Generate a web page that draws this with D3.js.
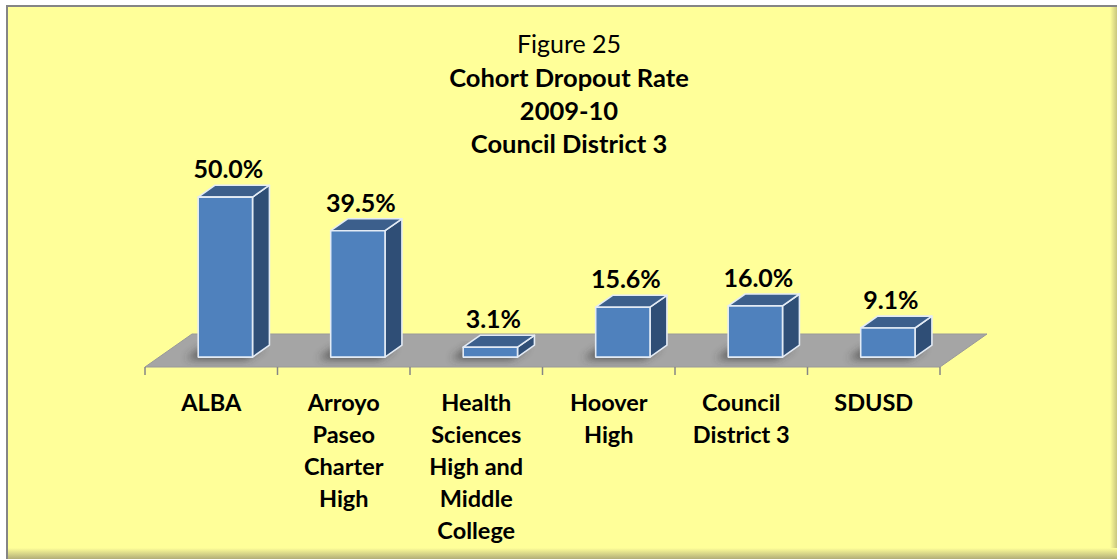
<!DOCTYPE html>
<html>
<head>
<meta charset="utf-8">
<script src="https://cdn.jsdelivr.net/npm/d3@7"></script>
<style>
  body { margin: 0; background: #fff; }
  svg { display: block; font-family: Lato, 'Open Sans', sans-serif; }
</style>
</head>
<body>
<div id="chart"></div>
<script>
// data
const schools = ['ALBA', 'Arroyo Paseo Charter High', 'Health Sciences High and Middle College',
    'Hoover High', 'Council District 3', 'SDUSD'];
const labelLines = [
    ['ALBA'],
    ['Arroyo', 'Paseo', 'Charter', 'High'],
    ['Health', 'Sciences', 'High and', 'Middle', 'College'],
    ['Hoover', 'High'],
    ['Council', 'District 3'],
    ['SDUSD'],
];
const dropoutRates = [50.0, 39.5, 3.1, 15.6, 16.0, 9.1];
const titleLines = ['Figure 25', 'Cohort Dropout Rate', '2009-10', 'Council District 3'];

const W = 1117, H = 559;

// floor of the 3d plot
const floorFront = 367;
const depthX = 47, depthY = -33;
const barInset = 0.3;     // how far back the bars sit on the floor
const barDepth = 0.36;    // bar depth as a share of floor depth

const svg = d3.select('#chart')
    .append('svg')
    .attr('width', W)
    .attr('height', H);

const defs = svg.append('defs');

defs.append('filter')
    .attr('id', 'blur')
    .attr('x', '-50%').attr('y', '-50%')
    .attr('width', '200%').attr('height', '200%')
    .append('feGaussianBlur')
    .attr('stdDeviation', 4);

const gradR = defs.append('linearGradient').attr('id', 'shadeR').attr('x1', 0).attr('x2', 1).attr('y1', 0).attr('y2', 0);
gradR.append('stop').attr('offset', 0).attr('stop-color', '#ffff99');
gradR.append('stop').attr('offset', 1).attr('stop-color', '#c9c67e');

const gradB = defs.append('linearGradient').attr('id', 'shadeB').attr('x1', 0).attr('x2', 0).attr('y1', 0).attr('y2', 1);
gradB.append('stop').attr('offset', 0).attr('stop-color', '#ffff99');
gradB.append('stop').attr('offset', 1).attr('stop-color', '#b2ae78');

// background panel
svg.append('rect')
    .attr('x', 6).attr('y', 5)
    .attr('width', W - 6).attr('height', H - 5)
    .attr('fill', '#ffff99');

svg.append('rect')
    .attr('x', 1110).attr('y', 5)
    .attr('width', 7).attr('height', H - 5)
    .attr('fill', 'url(#shadeR)');

svg.append('rect')
    .attr('x', 6).attr('y', 548)
    .attr('width', W - 6).attr('height', 11)
    .attr('fill', 'url(#shadeB)');

svg.append('path')
    .attr('d', `M7,${H} L7,6 L${W},6`)
    .attr('fill', 'none')
    .attr('stroke', '#858585')
    .attr('stroke-width', 2);

const x = d3.scaleBand()
    .domain(schools)
    .range([145, 940])
    .padding(0);

const y = d3.scaleLinear()
    .domain([0, 50])
    .range([0, 160]);

// floor
const fx0 = x.range()[0], fx1 = x.range()[1];
svg.append('path')
    .attr('d', `M${fx0},${floorFront} L${fx1},${floorFront} L${fx1 + depthX},${floorFront + depthY} L${fx0 + depthX},${floorFront + depthY} Z`)
    .attr('fill', '#a5a5a5')
    .attr('stroke', '#999')
    .attr('stroke-width', 1);

// tick marks along the front edge
const tickXs = schools.map((s) => x(s)).concat([fx1]);
svg.selectAll('.tick-mark')
    .data(tickXs)
    .enter()
    .append('line')
    .attr('class', 'tick-mark')
    .attr('x1', (d) => d).attr('x2', (d) => d)
    .attr('y1', floorFront).attr('y2', floorFront + 8)
    .attr('stroke', '#868686')
    .attr('stroke-width', 1.5);

const rows = schools.map((s, i) => {
    const bw = x.bandwidth() * 0.41;
    const cx = x(s) + x.bandwidth() / 2 + depthX * barInset;
    const base = floorFront + depthY * barInset;
    return {
        name: s,
        value: dropoutRates[i],
        lines: labelLines[i],
        x0: cx - bw / 2,
        x1: cx + bw / 2,
        base: base,
        top: base - y(dropoutRates[i]),
        bdx: depthX * barDepth,
        bdy: depthY * barDepth,
    };
});

// soft shadows on the floor
svg.selectAll('.shadow')
    .data(rows)
    .enter()
    .append('path')
    .attr('class', 'shadow')
    .attr('d', (d) => `M${d.x0 - 12},${d.base + 2} L${d.x1 - 6},${d.base + 2} L${d.x1 + d.bdx - 6},${d.base + d.bdy + 2} L${d.x0 + d.bdx - 12},${d.base + d.bdy + 2} Z`)
    .attr('fill', '#333')
    .attr('opacity', 0.75)
    .attr('filter', 'url(#blur)');

const bars = svg.selectAll('.bar')
    .data(rows)
    .enter()
    .append('g')
    .attr('class', 'bar')
    .attr('stroke', '#e3ebf5')
    .attr('stroke-width', 1.6)
    .attr('stroke-linejoin', 'round');

bars.append('path')
    .attr('d', (d) => `M${d.x1},${d.base} L${d.x1},${d.top} L${d.x1 + d.bdx},${d.top + d.bdy} L${d.x1 + d.bdx},${d.base + d.bdy} Z`)
    .attr('fill', '#2f4e76');

bars.append('path')
    .attr('d', (d) => `M${d.x0},${d.top} L${d.x1},${d.top} L${d.x1 + d.bdx},${d.top + d.bdy} L${d.x0 + d.bdx},${d.top + d.bdy} Z`)
    .attr('fill', '#3c5f8c');

bars.append('rect')
    .attr('x', (d) => d.x0)
    .attr('y', (d) => d.top)
    .attr('width', (d) => d.x1 - d.x0)
    .attr('height', (d) => d.base - d.top)
    .attr('fill', '#4f81bd');

// value labels
const fmt = d3.format('.1%');
svg.selectAll('.value-label')
    .data(rows)
    .enter()
    .append('text')
    .attr('class', 'value-label')
    .attr('x', (d) => (d.x0 + d.x1) / 2 + 3)
    .attr('y', (d) => d.top + d.bdy - 7)
    .attr('text-anchor', 'middle')
    .style('font-size', '25px')
    .style('font-weight', 'bold')
    .text((d) => fmt(d.value / 100));

// category labels
const cat = svg.selectAll('.cat-label')
    .data(rows)
    .enter()
    .append('text')
    .attr('class', 'cat-label')
    .attr('text-anchor', 'middle')
    .style('font-size', '23.5px')
    .style('font-weight', 'bold');

cat.selectAll('tspan')
    .data((d) => d.lines.map((t) => ({ t: t, cx: x(d.name) + x.bandwidth() / 2 })))
    .enter()
    .append('tspan')
    .attr('x', (d) => d.cx)
    .attr('y', (d, i) => 411 + i * 32)
    .text((d) => d.t);

// title
svg.selectAll('.title-line')
    .data(titleLines)
    .enter()
    .append('text')
    .attr('class', 'title-line')
    .attr('x', 569)
    .attr('y', (d, i) => [53, 87, 120, 153][i])
    .attr('text-anchor', 'middle')
    .style('font-size', (d, i) => (i === 0 ? '25px' : '25.5px'))
    .style('font-weight', (d, i) => (i === 0 ? 'normal' : 'bold'))
    .text((d) => d);
</script>
</body>
</html>
